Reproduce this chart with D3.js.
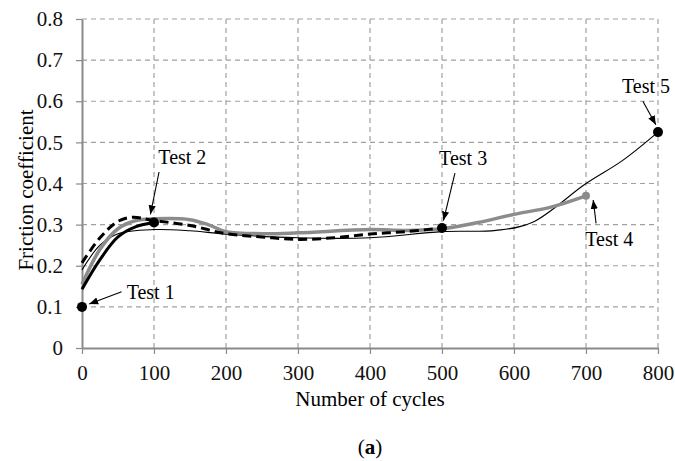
<!DOCTYPE html>
<html>
<head>
<meta charset="utf-8">
<script src="https://cdn.jsdelivr.net/npm/d3@7"></script>
<style>
  body { margin: 0; background: #fff; }
  text { font-family: "Liberation Serif", "Times New Roman", serif; }
</style>
</head>
<body>
<div class="canvas"></div>
<script>
// data: [cycles, friction coefficient]
const test2 = [[0, 0.143], [25, 0.215], [50, 0.27], [75, 0.295], [100, 0.305]];
const test3 = [[0, 0.207], [25, 0.268], [50, 0.308], [70, 0.318], [100, 0.31], [150, 0.298], [200, 0.278],
               [250, 0.27], [300, 0.264], [350, 0.268], [400, 0.277], [450, 0.283], [500, 0.292]];
const test4 = [[0, 0.155], [25, 0.24], [50, 0.29], [75, 0.31], [100, 0.314], [150, 0.312], [175, 0.3],
               [200, 0.283], [250, 0.278], [300, 0.28], [400, 0.288], [450, 0.286], [500, 0.29],
               [550, 0.305], [600, 0.325], [650, 0.342], [700, 0.37]];
const test5 = [[0, 0.19], [25, 0.25], [50, 0.278], [100, 0.288], [150, 0.285], [200, 0.277], [300, 0.268],
               [400, 0.268], [500, 0.283], [575, 0.286], [625, 0.305], [700, 0.4], [750, 0.455], [800, 0.525]];
const endPoints = [[0, 0.1], [100, 0.305], [500, 0.292], [800, 0.525]];
const test4End = [700, 0.37];

const xTicks = [0, 100, 200, 300, 400, 500, 600, 700, 800];
const yTicks = [0, 0.1, 0.2, 0.3, 0.4, 0.5, 0.6, 0.7, 0.8];

// labels: [text, x, y, arrow x1, y1, x2, y2] in data units
const labels = [
  ['Test 1', 62, 0.119, 55, 0.137, 10, 0.107],
  ['Test 2', 106, 0.447, 107, 0.428, 95, 0.325],
  ['Test 3', 496, 0.445, 518, 0.425, 502, 0.31],
  ['Test 4', 699, 0.248, 714, 0.303, 710, 0.36],
  ['Test 5', 750, 0.62, 779, 0.6, 797, 0.543]
];

const width = 675, height = 461;
const margin = {top: 19, right: 17, bottom: 113, left: 82};
const graphWidth = width - margin.left - margin.right;
const graphHeight = height - margin.top - margin.bottom;

const svg = d3.select('.canvas')
              .append('svg')
              .attr('width', width)
              .attr('height', height);

svg.append('defs').append('marker')
   .attr('id', 'arrow')
   .attr('viewBox', '0 0 10 10')
   .attr('refX', 10).attr('refY', 5)
   .attr('markerWidth', 9).attr('markerHeight', 9)
   .attr('markerUnits', 'userSpaceOnUse')
   .attr('orient', 'auto')
   .append('path')
   .attr('d', 'M0,1 L10,5 L0,9 Z')
   .attr('fill', '#000');

const graph = svg.append('g')
                 .attr('transform', `translate(${margin.left}, ${margin.top})`);

const x = d3.scaleLinear().domain([0, 800]).range([0, graphWidth]);
const y = d3.scaleLinear().domain([0, 0.8]).range([graphHeight, 0]);

// grid
graph.append('g').selectAll('line')
     .data(yTicks.slice(1))
     .enter().append('line')
     .attr('x1', 0).attr('x2', graphWidth)
     .attr('y1', d => y(d)).attr('y2', d => y(d))
     .attr('stroke', '#a0a0a0').attr('stroke-width', 1.2)
     .attr('stroke-dasharray', '5,4');
graph.append('g').selectAll('line')
     .data(xTicks.slice(1))
     .enter().append('line')
     .attr('x1', d => x(d)).attr('x2', d => x(d))
     .attr('y1', 0).attr('y2', graphHeight)
     .attr('stroke', '#a0a0a0').attr('stroke-width', 1.2)
     .attr('stroke-dasharray', '5,4');

// axes
const xAxis = d3.axisBottom(x).tickValues(xTicks).tickSize(6).tickPadding(11).tickSizeOuter(0);
const yAxis = d3.axisLeft(y).tickValues(yTicks).tickSize(6).tickPadding(13).tickSizeOuter(0)
                .tickFormat(d => d === 0 ? '0' : d3.format('.1f')(d));

const xAxisGroup = graph.append('g').attr('transform', `translate(0, ${graphHeight})`).call(xAxis);
const yAxisGroup = graph.append('g').call(yAxis);

[xAxisGroup, yAxisGroup].forEach(g => {
  g.select('.domain').attr('stroke', '#8a8a8a').attr('stroke-width', 2);
  g.selectAll('line').attr('stroke', '#8a8a8a').attr('stroke-width', 1.2);
  g.selectAll('text').attr('font-size', 21).attr('fill', '#111')
   .style('font-family', '"Liberation Serif", serif');
});

// lines
const line = d3.line().x(d => x(d[0])).y(d => y(d[1])).curve(d3.curveCatmullRom.alpha(0.5));

graph.append('path').datum(test5).attr('d', line)
     .attr('fill', 'none').attr('stroke', '#000').attr('stroke-width', 1.1);
graph.append('path').datum(test4).attr('d', line)
     .attr('fill', 'none').attr('stroke', '#8c8c8c').attr('stroke-width', 3.5);
graph.append('path').datum(test3).attr('d', line)
     .attr('fill', 'none').attr('stroke', '#000').attr('stroke-width', 3)
     .attr('stroke-dasharray', '9,5');
graph.append('path').datum(test2).attr('d', line)
     .attr('fill', 'none').attr('stroke', '#000').attr('stroke-width', 3);

graph.selectAll('circle.end')
     .data(endPoints)
     .enter().append('circle')
     .attr('class', 'end')
     .attr('cx', d => x(d[0])).attr('cy', d => y(d[1]))
     .attr('r', 5).attr('fill', '#000');
graph.append('circle')
     .attr('cx', x(test4End[0])).attr('cy', y(test4End[1]))
     .attr('r', 4).attr('fill', '#8c8c8c');

// annotations
const ann = graph.append('g');
labels.forEach(l => {
  ann.append('text')
     .attr('x', x(l[1])).attr('y', y(l[2]))
     .attr('font-size', 20).attr('fill', '#000')
     .text(l[0]);
  ann.append('line')
     .attr('x1', x(l[3])).attr('y1', y(l[4]))
     .attr('x2', x(l[5])).attr('y2', y(l[6]))
     .attr('stroke', '#000').attr('stroke-width', 1.1)
     .attr('marker-end', 'url(#arrow)');
});

// titles
svg.append('text')
   .attr('x', margin.left + graphWidth / 2).attr('y', 406)
   .attr('text-anchor', 'middle').attr('font-size', 21)
   .text('Number of cycles');
svg.append('text')
   .attr('transform', 'translate(33, 190) rotate(-90)')
   .attr('text-anchor', 'middle').attr('font-size', 21)
   .text('Friction coefficient');
const cap = svg.append('text')
   .attr('x', margin.left + graphWidth / 2).attr('y', 454)
   .attr('text-anchor', 'middle').attr('font-size', 21);
cap.append('tspan').text('(');
cap.append('tspan').attr('font-weight', 'bold').text('a');
cap.append('tspan').text(')');
</script>
</body>
</html>
